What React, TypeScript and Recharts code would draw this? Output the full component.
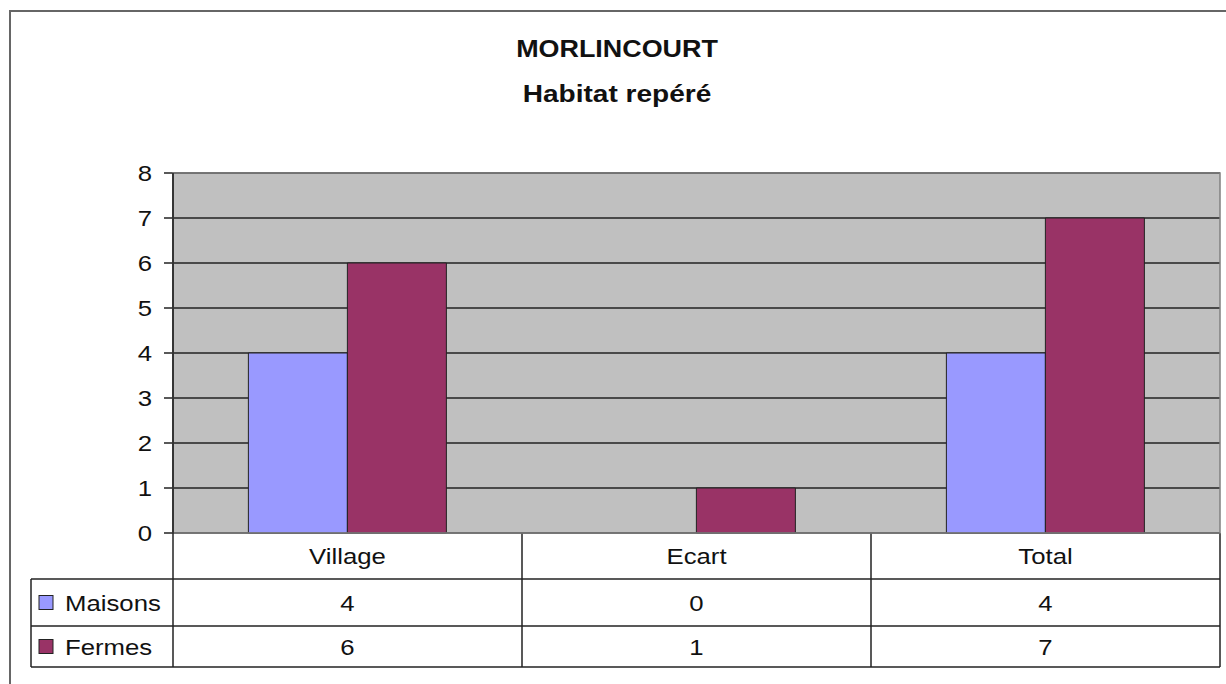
import React from "react";
import { BarChart, Bar, XAxis, YAxis, CartesianGrid } from "recharts";

const categories = ["Village", "Ecart", "Total"];
const maisons = [4, 0, 4];
const fermes = [6, 1, 7];
const yTicks = [0, 1, 2, 3, 4, 5, 6, 7, 8];

const series = [
  { key: "maisons", label: "Maisons", color: "#9999FF", values: maisons },
  { key: "fermes", label: "Fermes", color: "#993366", values: fermes },
];

const data = categories.map((name, i) => ({
  name,
  maisons: maisons[i],
  fermes: fermes[i],
}));

const W = 1226;
const H = 684;
const FONT = "'Liberation Sans', Arial, sans-serif";
const STRETCH = 1.17; // source picture is a bit wider than tall
const margin = { top: 173, right: 6, left: 113, bottom: 17 };
const Y_AXIS_W = 60;
const PLOT_LEFT = margin.left + Y_AXIS_W;
const PLOT_RIGHT = W - margin.right;
const ROW_H = [46, 47, 41]; // category row, then one row per series
const TABLE_LEFT = 31;

function SText({ x, y, anchor = "start", size = 22, bold = false, children }: any) {
  return (
    <text
      transform={`translate(${x},${y}) scale(${STRETCH},1)`}
      textAnchor={anchor}
      fontSize={size}
      fontWeight={bold ? "bold" : "normal"}
      fontFamily={FONT}
      fill="#111"
    >
      {children}
    </text>
  );
}

function YTick(props: any) {
  const { x, y, payload } = props;
  return (
    <SText x={x} y={y + 8} anchor="end">
      {payload.value}
    </SText>
  );
}

function TableTick(props: any) {
  const { x, payload, index } = props;
  const band = (PLOT_RIGHT - PLOT_LEFT) / categories.length;
  const left = x - band / 2;
  const right = x + band / 2;
  const top = H - margin.bottom - ROW_H.reduce((a, b) => a + b, 0);
  const rows = [payload.value, ...series.map((s) => String(s.values[index]))];
  let y = top;
  return (
    <g>
      {rows.map((txt, r) => {
        const y0 = y;
        y += ROW_H[r];
        return (
          <g key={r}>
            <line x1={left} x2={right} y1={y} y2={y} stroke="#222" strokeWidth={1.5} />
            <SText x={x} y={y0 + ROW_H[r] / 2 + 8} anchor="middle">
              {txt}
            </SText>
          </g>
        );
      })}
      <line x1={right} x2={right} y1={top} y2={y} stroke="#222" strokeWidth={1.5} />
    </g>
  );
}

function Overlay() {
  const tableBottom = H - margin.bottom;
  const catTop = tableBottom - ROW_H.reduce((a, b) => a + b, 0);
  let y = catTop + ROW_H[0];
  return (
    <svg
      width={W}
      height={H}
      style={{ position: "absolute", left: 0, top: 0, pointerEvents: "none" }}
    >
      <rect x={10} y={11} width={1240} height={720} fill="none" stroke="#666" strokeWidth={2} />
      <SText x={617} y={57} anchor="middle" size={23} bold>
        MORLINCOURT
      </SText>
      <SText x={617} y={102} anchor="middle" size={24} bold>
        Habitat repéré
      </SText>
      <rect x={PLOT_LEFT} y={margin.top} width={PLOT_RIGHT - PLOT_LEFT} height={catTop - margin.top} fill="none" stroke="#808080" strokeWidth={1.5} />
      <line x1={PLOT_LEFT} x2={PLOT_LEFT} y1={margin.top} y2={tableBottom} stroke="#222" strokeWidth={1.5} />
      <line x1={TABLE_LEFT} x2={PLOT_LEFT} y1={y} y2={y} stroke="#222" strokeWidth={1.5} />
      <line x1={TABLE_LEFT} x2={TABLE_LEFT} y1={y} y2={tableBottom} stroke="#222" strokeWidth={1.5} />
      {series.map((s, i) => {
        const y0 = y;
        y += ROW_H[i + 1];
        return (
          <g key={s.key}>
            <line x1={TABLE_LEFT} x2={PLOT_LEFT} y1={y} y2={y} stroke="#222" strokeWidth={1.5} />
            <rect x={39} y={y0 + ROW_H[i + 1] / 2 - 7} width={14} height={14} fill={s.color} stroke="#222" strokeWidth={1} />
            <SText x={65} y={y0 + ROW_H[i + 1] / 2 + 8}>
              {s.label}
            </SText>
          </g>
        );
      })}
    </svg>
  );
}

export default function App() {
  return (
    <div style={{ position: "absolute", left: 0, top: 0, width: W, height: H, background: "#fff" }}>
      <BarChart
        width={W}
        height={H}
        data={data}
        margin={margin}
        barCategoryGap="21.6%"
        barGap={0}
      >
        <CartesianGrid vertical={false} fill="#C0C0C0" stroke="#222" strokeWidth={1.5} fillOpacity={1} />
        <XAxis
          dataKey="name"
          height={ROW_H.reduce((a, b) => a + b, 0)}
          axisLine={false}
          tickLine={false}
          interval={0}
          tick={<TableTick />}
        />
        <YAxis
          width={Y_AXIS_W}
          domain={[0, 8]}
          ticks={yTicks}
          interval={0}
          axisLine={{ stroke: "#222", strokeWidth: 1.5 }}
          tickLine={{ stroke: "#222", strokeWidth: 1.5 }}
          tickSize={9}
          tickMargin={12}
          tick={<YTick />}
        />
        {series.map((s) => (
          <Bar
            key={s.key}
            dataKey={s.key}
            name={s.label}
            fill={s.color}
            stroke="#222"
            strokeWidth={1}
            isAnimationActive={false}
          />
        ))}
      </BarChart>
      <Overlay />
    </div>
  );
}
